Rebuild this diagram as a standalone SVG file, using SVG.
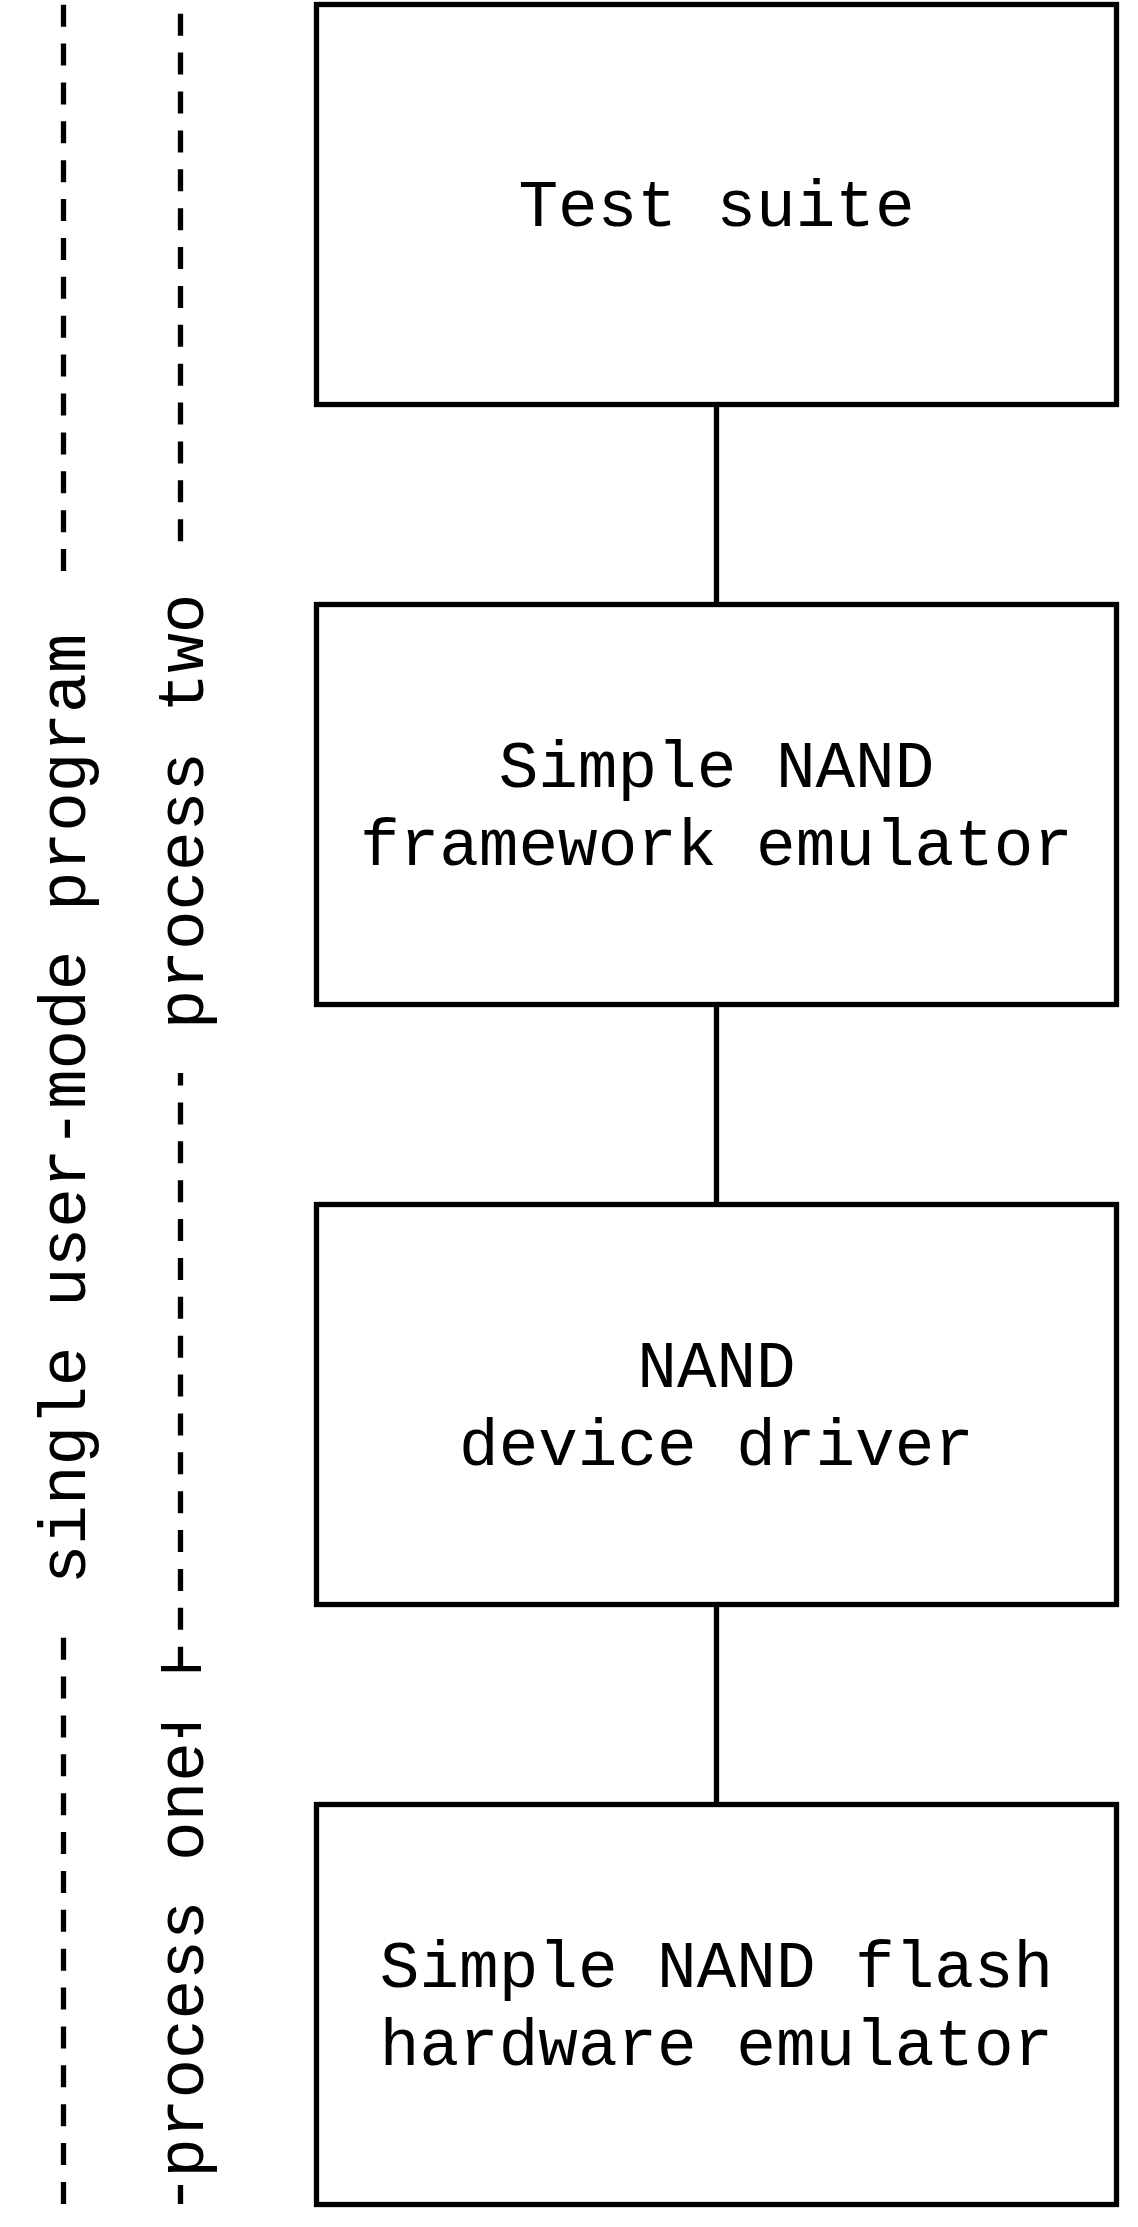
<svg xmlns="http://www.w3.org/2000/svg" width="1138" height="2227" viewBox="0 0 1138 2227">
  <style>
    .box { fill: #ffffff; stroke: #000000; stroke-width: 5.3; }
    .conn { stroke: #000000; stroke-width: 5.3; fill: none; }
    .dash { stroke: #000000; stroke-width: 5.3; fill: none; stroke-dasharray: 22 16.88; }
    .tick { stroke: #000000; stroke-width: 5.3; fill: none; }
    .lbl { font-family: "Liberation Mono", "Courier New", monospace; font-size: 66px; fill: #000000; text-anchor: middle; }
    .bg { fill: #ffffff; stroke: none; }
  </style>
  <rect width="1138" height="2227" fill="#ffffff"/>

  <g id="connectors">
    <line class="conn" x1="716.5" y1="404.5" x2="716.5" y2="604.5"/>
    <line class="conn" x1="716.5" y1="1004.5" x2="716.5" y2="1204.5"/>
    <line class="conn" x1="716.5" y1="1604.5" x2="716.5" y2="1804.5"/>
  </g>

  <g id="node-test-suite">
    <rect class="box" x="316.5" y="4.5" width="800" height="400"/>
    <text class="lbl" x="716.5" y="226">Test suite</text>
  </g>
  <g id="node-framework-emulator">
    <rect class="box" x="316.5" y="604.5" width="800" height="400"/>
    <text class="lbl" x="716.5" y="787">Simple NAND</text>
    <text class="lbl" x="716.5" y="865">framework emulator</text>
  </g>
  <g id="node-device-driver">
    <rect class="box" x="316.5" y="1204.5" width="800" height="400"/>
    <text class="lbl" x="716.5" y="1387">NAND</text>
    <text class="lbl" x="716.5" y="1465">device driver</text>
  </g>
  <g id="node-hardware-emulator">
    <rect class="box" x="316.5" y="1804.5" width="800" height="400"/>
    <text class="lbl" x="716.5" y="1987">Simple NAND flash</text>
    <text class="lbl" x="716.5" y="2065">hardware emulator</text>
  </g>

  <g id="span-single-program">
    <path class="dash" d="M63.5 4.7 L63.5 2204.3"/>
    <rect class="bg" x="30" y="585" width="70" height="1047"/>
    <text class="lbl" x="85" y="1109" transform="rotate(-90 85 1109)">single user-mode program</text>
  </g>
  <g id="span-process-two">
    <path class="dash" d="M180.5 1668.7 L180.5 13.3"/>
    <line class="tick" x1="161" y1="1668.7" x2="201" y2="1668.7"/>
    <rect class="bg" x="150" y="550" width="65" height="523"/>
    <text class="lbl" x="203" y="811.5" transform="rotate(-90 203 811.5)">process two</text>
  </g>
  <g id="span-process-one">
    <path class="dash" d="M180.5 2204 L180.5 1726.7"/>
    <line class="tick" x1="161" y1="1726.7" x2="201" y2="1726.7"/>
    <rect class="bg" x="150" y="1737" width="65" height="448"/>
    <text class="lbl" x="203" y="1960" transform="rotate(-90 203 1960)">process one</text>
  </g>
</svg>
